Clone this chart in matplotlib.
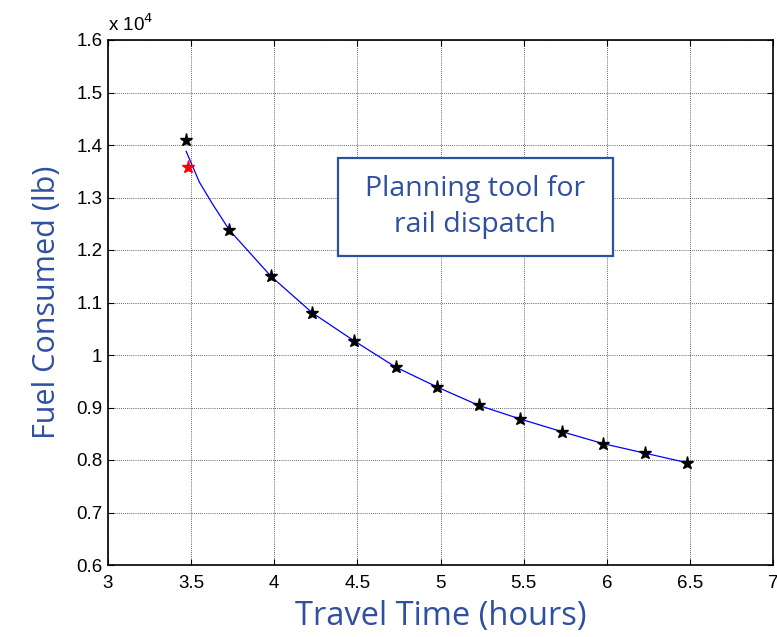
import matplotlib
matplotlib.use("Agg")
import matplotlib.pyplot as plt
from matplotlib.ticker import FuncFormatter
from matplotlib.patches import Rectangle

# Pareto points (travel time in hours, fuel in lb)
travel_time = [3.47, 3.73, 3.98, 4.23, 4.48, 4.73, 4.98, 5.23, 5.48, 5.73, 5.98, 6.23, 6.48]
fuel_lb = [14100, 12380, 11500, 10800, 10270, 9770, 9390, 9040, 8780, 8540, 8310, 8130, 7950]

# Highlighted (red) point
red_time = [3.48]
red_fuel = [13590]

# Fitted curve
curve_time = [3.47, 3.55, 3.63, 3.73, 3.98, 4.23, 4.48, 4.73, 4.98, 5.23, 5.48, 5.73, 5.98, 6.23, 6.48]
curve_fuel = [13880, 13290, 12870, 12380, 11500, 10800, 10270, 9770, 9390, 9040, 8780, 8540, 8310, 8130, 7950]

x_ticks = [3, 3.5, 4, 4.5, 5, 5.5, 6, 6.5, 7]
y_ticks = [0.6, 0.7, 0.8, 0.9, 1.0, 1.1, 1.2, 1.3, 1.4, 1.5, 1.6]

label_color = "#2F4FA0"

W, H = 777, 637
fig = plt.figure(figsize=(W / 100, H / 100), dpi=100)
ax = fig.add_axes([108 / W, 1 - 565 / H, (773 - 108) / W, (565 - 40) / H])

scale = 1e4
ax.plot(curve_time, [v / scale for v in curve_fuel], color="#0000FF", lw=0.9, zorder=3)
ax.plot(travel_time, [v / scale for v in fuel_lb], linestyle="none", marker="*",
        color="black", markersize=9.5, zorder=4)
ax.plot(red_time, [v / scale for v in red_fuel], linestyle="none", marker="*",
        color="red", markersize=9.5, zorder=4)

ax.set_xlim(3, 7)
ax.set_ylim(0.6, 1.6)
ax.set_xticks(x_ticks)
ax.set_yticks(y_ticks)
fmt = FuncFormatter(lambda v, p: f"{v:g}")
ax.xaxis.set_major_formatter(fmt)
ax.yaxis.set_major_formatter(fmt)
ax.tick_params(direction="in", length=4, width=0.8, top=True, right=True,
               labelsize=13.5, colors="black")
for lab in ax.get_xticklabels() + ax.get_yticklabels():
    lab.set_fontfamily("Liberation Sans")
ax.tick_params(axis="x", pad=7)
ax.tick_params(axis="y", pad=4)

ax.grid(True, color="black", linestyle=(0, (1, 1.5)), linewidth=0.6, alpha=0.8)
for sp in ax.spines.values():
    sp.set_linewidth(1.2)

ax.text(0.0, 1.01, r"x 10$^4$", transform=ax.transAxes, fontsize=13.5,
        family="Liberation Sans", ha="left", va="bottom")

ax.set_xlabel("Travel Time (hours)", fontsize=23.5, color=label_color,
              family="Open Sans", labelpad=6)
ax.set_ylabel("Fuel Consumed (lb)", fontsize=22, color=label_color,
              family="Open Sans", labelpad=10)

# Annotation box
bx0, by0, bx1, by1 = 338, 158, 613, 256
fig.patches.append(Rectangle((bx0 / W, 1 - by1 / H), (bx1 - bx0) / W, (by1 - by0) / H,
                             transform=fig.transFigure, facecolor="white",
                             edgecolor=label_color, linewidth=1.6, zorder=5))
fig.text((bx0 + bx1) / 2 / W, 1 - (by0 + by1) / 2 / H,
         "Planning tool for\nrail dispatch", fontsize=20.5, color=label_color,
         family="Open Sans", fontweight="medium", ha="center", va="center",
         linespacing=1.4, zorder=6)

fig.savefig("out.png", dpi=100)
